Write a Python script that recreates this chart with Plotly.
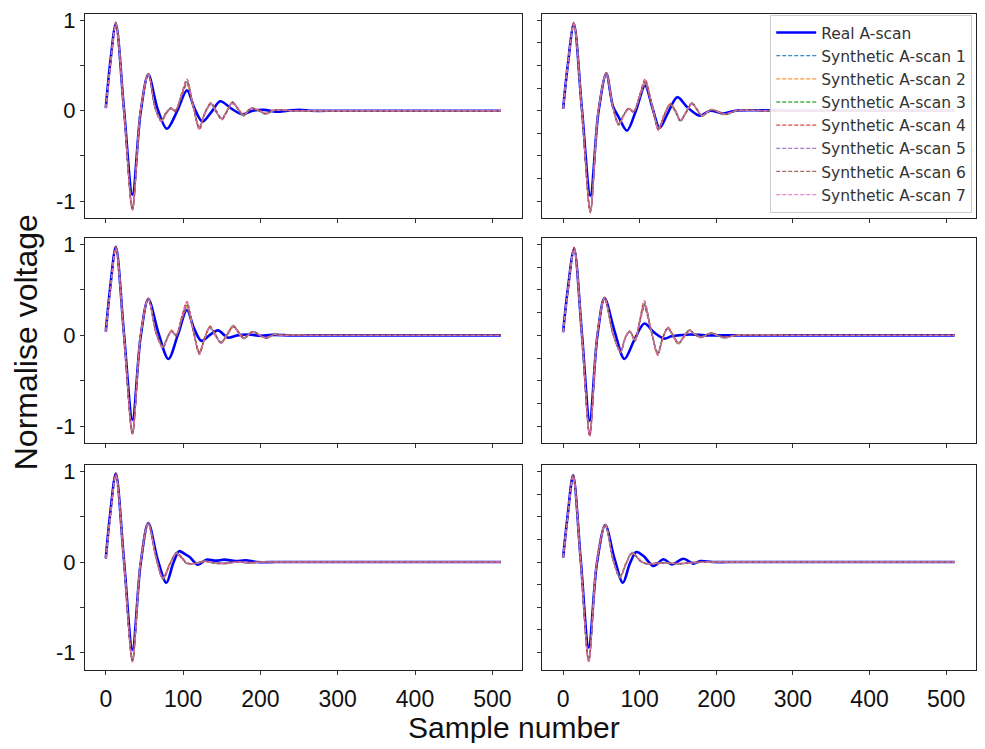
import plotly.graph_objects as go

# ---------------- data ----------------
REAL_NAME = "Real A-scan"
SYN_NAMES = ["Synthetic A-scan 1", "Synthetic A-scan 2", "Synthetic A-scan 3",
             "Synthetic A-scan 4", "Synthetic A-scan 5", "Synthetic A-scan 6",
             "Synthetic A-scan 7"]
X_TICKS = [0, 100, 200, 300, 400, 500]
Y_TICKS_LEFT = [-1, -0.5, 0, 0.5, 1]
Y_TICKTEXT_LEFT = ["-1", "", "0", "", "1"]
Y_TICKS_RIGHT = [-1, -0.75, -0.5, -0.25, 0, 0.25, 0.5, 0.75, 1]

# Panel 1 (top-left)
P1_REAL_X = [0, 6, 13, 23.5, 34.5, 45, 55, 67, 79, 92, 105, 115, 125, 137, 148, 163, 177, 190, 205, 220, 235, 250, 265, 300, 400, 511]
P1_REAL_Y = [0.03, 0.55, 0.96, 0.02, -0.93, -0.02, 0.40, 0.02, -0.20, -0.01, 0.225, 0.02, -0.12, -0.01, 0.105, 0.02, -0.04, 0.0, 0.01, -0.01, 0.0, 0.01, 0.0, 0.0, 0.0, 0.0]
P1_SYN_X = [0, 6, 13, 23.5, 34.5, 45, 55, 64, 72, 78, 84, 90, 98, 105, 113, 121, 128, 136, 143, 150, 157, 164, 171, 178, 188, 198, 207, 216, 226, 240, 260, 300, 400, 511]
P1_SYN_1 = [0.03, 0.52, 0.97, 0.0, -1.08, 0.0, 0.40, 0.03, -0.11, -0.03, 0.025, 0.0, 0.17, 0.32, 0.05, -0.19, -0.03, 0.08, -0.01, -0.09, 0.0, 0.09, 0.02, -0.05, 0.025, 0.0, -0.035, 0.0, 0.01, 0.0, 0.0, 0.0, 0.0, 0.0]
P1_SYN_2 = [0.03, 0.51, 0.96, 0.0, -1.06, 0.0, 0.41, 0.02, -0.12, -0.04, 0.03, 0.01, 0.16, 0.29, 0.04, -0.17, -0.04, 0.09, 0.0, -0.10, -0.01, 0.08, 0.03, -0.04, 0.02, 0.01, -0.03, 0.0, 0.005, 0.0, 0.0, 0.0, 0.0, 0.0]
P1_SYN_3 = [0.03, 0.53, 0.97, 0.0, -1.09, 0.0, 0.40, 0.04, -0.10, -0.02, 0.02, 0.0, 0.18, 0.33, 0.06, -0.20, -0.02, 0.07, -0.02, -0.08, 0.01, 0.10, 0.01, -0.06, 0.03, 0.0, -0.04, 0.0, 0.01, 0.0, 0.0, 0.0, 0.0, 0.0]
P1_SYN_4 = [0.03, 0.52, 0.98, 0.0, -1.10, 0.0, 0.39, 0.03, -0.11, -0.03, 0.03, -0.01, 0.19, 0.35, 0.05, -0.21, -0.03, 0.08, -0.01, -0.09, 0.0, 0.09, 0.02, -0.05, 0.025, 0.0, -0.03, 0.01, 0.01, 0.0, 0.0, 0.0, 0.0, 0.0]
P1_SYN_5 = [0.03, 0.50, 0.96, 0.0, -1.07, 0.0, 0.40, 0.02, -0.12, -0.03, 0.02, 0.0, 0.15, 0.30, 0.04, -0.18, -0.04, 0.07, 0.0, -0.09, -0.01, 0.08, 0.02, -0.05, 0.02, 0.0, -0.035, 0.0, 0.01, 0.0, 0.0, 0.0, 0.0, 0.0]
P1_SYN_6 = [0.03, 0.52, 0.97, 0.0, -1.09, 0.0, 0.41, 0.03, -0.10, -0.02, 0.03, 0.0, 0.17, 0.31, 0.05, -0.19, -0.03, 0.09, -0.01, -0.10, 0.0, 0.10, 0.02, -0.04, 0.03, 0.0, -0.03, 0.0, 0.01, 0.0, 0.0, 0.0, 0.0, 0.0]
P1_SYN_7 = [0.03, 0.51, 0.96, 0.0, -1.10, 0.0, 0.40, 0.03, -0.11, -0.04, 0.025, 0.01, 0.18, 0.34, 0.06, -0.20, -0.03, 0.08, -0.02, -0.09, 0.01, 0.09, 0.03, -0.05, 0.025, 0.01, -0.04, 0.0, 0.01, 0.0, 0.0, 0.0, 0.0, 0.0]

# Panel 2 (middle-left)
P2_REAL_X = [0, 6, 13, 23.5, 34.5, 45, 55, 68, 81, 93, 105, 114, 123.5, 134, 145, 158, 170, 185, 200, 215, 240, 270, 300, 400, 511]
P2_REAL_Y = [0.04, 0.55, 0.975, 0.02, -0.93, -0.02, 0.40, 0.03, -0.26, 0.0, 0.28, 0.08, -0.06, 0.0, 0.055, -0.025, 0.0, 0.01, -0.005, 0.005, 0.0, 0.0, 0.0, 0.0, 0.0]
P2_SYN_X = [0, 6, 13, 23.5, 34.5, 45, 55, 65, 74, 80, 85, 91, 98, 105, 113, 121, 128, 134.6, 142, 149, 157, 165, 172, 179, 190, 207, 218, 228, 245, 260, 300, 400, 511]
P2_SYN_1 = [0.04, 0.52, 0.97, 0.0, -1.07, 0.0, 0.40, 0.03, -0.13, -0.02, 0.05, 0.0, 0.18, 0.34, 0.06, -0.19, -0.03, 0.09, 0.0, -0.08, 0.01, 0.10, 0.03, -0.03, 0.04, -0.03, 0.01, 0.0, 0.005, 0.0, 0.0, 0.0, 0.0]
P2_SYN_2 = [0.04, 0.51, 0.96, 0.0, -1.05, 0.0, 0.41, 0.02, -0.14, -0.03, 0.06, 0.01, 0.17, 0.31, 0.05, -0.17, -0.04, 0.10, 0.01, -0.09, 0.0, 0.09, 0.04, -0.02, 0.035, -0.025, 0.01, 0.0, 0.005, 0.0, 0.0, 0.0, 0.0]
P2_SYN_3 = [0.04, 0.53, 0.97, 0.0, -1.08, 0.0, 0.40, 0.04, -0.12, -0.01, 0.04, 0.0, 0.19, 0.35, 0.07, -0.20, -0.02, 0.08, -0.01, -0.07, 0.02, 0.11, 0.02, -0.04, 0.045, -0.035, 0.015, 0.0, 0.005, 0.0, 0.0, 0.0, 0.0]
P2_SYN_4 = [0.04, 0.52, 0.98, 0.0, -1.09, 0.0, 0.39, 0.03, -0.13, -0.02, 0.05, -0.01, 0.20, 0.37, 0.06, -0.21, -0.03, 0.09, 0.0, -0.08, 0.01, 0.10, 0.03, -0.03, 0.04, -0.03, 0.01, 0.0, 0.005, 0.0, 0.0, 0.0, 0.0]
P2_SYN_5 = [0.04, 0.50, 0.96, 0.0, -1.06, 0.0, 0.40, 0.02, -0.14, -0.02, 0.04, 0.0, 0.16, 0.30, 0.05, -0.18, -0.04, 0.08, 0.01, -0.09, 0.0, 0.09, 0.03, -0.03, 0.035, -0.03, 0.005, 0.0, 0.005, 0.0, 0.0, 0.0, 0.0]
P2_SYN_6 = [0.04, 0.52, 0.97, 0.0, -1.08, 0.0, 0.41, 0.03, -0.12, -0.02, 0.05, 0.0, 0.18, 0.33, 0.06, -0.19, -0.03, 0.10, 0.0, -0.08, 0.01, 0.11, 0.03, -0.03, 0.04, -0.03, 0.01, 0.0, 0.005, 0.0, 0.0, 0.0, 0.0]
P2_SYN_7 = [0.04, 0.51, 0.96, 0.0, -1.09, 0.0, 0.40, 0.03, -0.13, -0.03, 0.05, 0.01, 0.19, 0.36, 0.07, -0.20, -0.03, 0.09, -0.01, -0.08, 0.02, 0.10, 0.02, -0.035, 0.04, -0.03, 0.01, 0.0, 0.005, 0.0, 0.0, 0.0, 0.0]

# Panel 3 (bottom-left)
P3_REAL_X = [0, 6, 13, 23.5, 34.5, 45, 55, 67, 78.4, 87, 94.8, 102, 108.6, 119, 130, 142, 153.5, 168, 181, 195, 220, 260, 300, 400, 511]
P3_REAL_Y = [0.04, 0.56, 0.98, 0.02, -0.97, -0.02, 0.43, 0.03, -0.23, -0.02, 0.12, 0.09, 0.055, -0.03, 0.026, 0.015, 0.026, 0.01, 0.02, 0.0, 0.0, 0.0, 0.0, 0.0, 0.0]
P3_SYN_X = [0, 6, 13, 23.5, 34.5, 45, 55, 65, 74, 83, 91.4, 98, 104, 110, 118, 128, 140, 155, 170, 185, 200, 230, 300, 400, 511]
P3_SYN_1 = [0.04, 0.53, 0.97, 0.0, -1.09, 0.0, 0.43, 0.05, -0.18, -0.02, 0.10, 0.05, -0.01, -0.02, -0.01, 0.01, -0.01, -0.015, 0.0, -0.01, 0.0, 0.0, 0.0, 0.0, 0.0]
P3_SYN_2 = [0.04, 0.52, 0.96, 0.0, -1.07, 0.0, 0.43, 0.04, -0.17, -0.01, 0.09, 0.04, 0.0, -0.02, -0.015, 0.005, -0.01, -0.01, 0.0, -0.005, 0.0, 0.0, 0.0, 0.0, 0.0]
P3_SYN_3 = [0.04, 0.54, 0.97, 0.0, -1.10, 0.0, 0.42, 0.05, -0.19, -0.03, 0.11, 0.05, -0.01, -0.025, -0.01, 0.01, -0.015, -0.02, 0.0, -0.01, 0.0, 0.0, 0.0, 0.0, 0.0]
P3_SYN_4 = [0.04, 0.53, 0.98, 0.0, -1.10, 0.0, 0.43, 0.06, -0.18, -0.02, 0.10, 0.06, -0.005, -0.02, -0.01, 0.01, -0.01, -0.015, 0.005, -0.01, 0.0, 0.0, 0.0, 0.0, 0.0]
P3_SYN_5 = [0.04, 0.52, 0.96, 0.0, -1.08, 0.0, 0.44, 0.05, -0.17, -0.02, 0.10, 0.05, -0.01, -0.02, -0.01, 0.01, -0.005, -0.01, 0.0, -0.01, 0.0, 0.0, 0.0, 0.0, 0.0]
P3_SYN_6 = [0.04, 0.53, 0.97, 0.0, -1.09, 0.0, 0.43, 0.04, -0.19, -0.02, 0.09, 0.05, -0.015, -0.02, -0.01, 0.01, -0.01, -0.015, 0.0, -0.01, 0.0, 0.0, 0.0, 0.0, 0.0]
P3_SYN_7 = [0.04, 0.52, 0.96, 0.0, -1.11, 0.0, 0.42, 0.05, -0.18, -0.03, 0.10, 0.04, -0.01, -0.02, -0.015, 0.01, -0.01, -0.02, 0.0, -0.01, 0.0, 0.0, 0.0, 0.0, 0.0]

# Panel 4 (top-right)
P4_REAL_X = [0, 6, 14, 24.5, 35.6, 46, 56.4, 65, 72.5, 83.3, 95, 107, 116, 126, 137, 149, 162, 174, 179, 192, 209, 225, 250, 300, 400, 511]
P4_REAL_Y = [0.02, 0.5, 0.96, 0.02, -0.94, -0.02, 0.41, 0.05, -0.07, -0.22, 0.0, 0.28, 0.05, -0.19, -0.02, 0.15, 0.04, -0.04, -0.055, 0.0, -0.03, 0.0, 0.005, 0.0, 0.0, 0.0]
P4_SYN_X = [0, 6, 14, 24.5, 35.6, 46, 56.4, 65, 72.5, 79, 85.5, 92, 100, 107, 116, 124.6, 132, 140, 147, 153, 161, 168, 175, 181, 194, 211, 226.5, 245, 265, 300, 400, 511]
P4_SYN_1 = [0.02, 0.5, 0.97, 0.0, -1.11, 0.0, 0.41, 0.04, -0.15, -0.05, 0.02, -0.01, 0.16, 0.32, 0.06, -0.20, -0.05, 0.07, -0.01, -0.11, -0.01, 0.08, 0.01, -0.055, 0.01, -0.04, 0.0, 0.005, 0.0, 0.0, 0.0, 0.0]
P4_SYN_2 = [0.02, 0.49, 0.96, 0.0, -1.09, 0.0, 0.42, 0.03, -0.16, -0.06, 0.03, 0.0, 0.15, 0.29, 0.05, -0.18, -0.06, 0.08, 0.0, -0.10, -0.02, 0.07, 0.02, -0.05, 0.015, -0.035, 0.0, 0.005, 0.0, 0.0, 0.0, 0.0]
P4_SYN_3 = [0.02, 0.51, 0.97, 0.0, -1.12, 0.0, 0.41, 0.05, -0.14, -0.04, 0.02, -0.01, 0.17, 0.33, 0.07, -0.21, -0.04, 0.06, -0.02, -0.12, 0.0, 0.09, 0.01, -0.06, 0.01, -0.045, 0.0, 0.005, 0.0, 0.0, 0.0, 0.0]
P4_SYN_4 = [0.02, 0.5, 0.98, 0.0, -1.13, 0.0, 0.40, 0.04, -0.15, -0.05, 0.025, -0.02, 0.18, 0.35, 0.06, -0.22, -0.05, 0.07, -0.01, -0.11, -0.01, 0.08, 0.01, -0.055, 0.01, -0.04, 0.0, 0.005, 0.0, 0.0, 0.0, 0.0]
P4_SYN_5 = [0.02, 0.49, 0.96, 0.0, -1.10, 0.0, 0.41, 0.03, -0.16, -0.05, 0.015, -0.01, 0.15, 0.30, 0.05, -0.19, -0.05, 0.07, 0.0, -0.10, -0.01, 0.07, 0.01, -0.05, 0.01, -0.035, 0.0, 0.005, 0.0, 0.0, 0.0, 0.0]
P4_SYN_6 = [0.02, 0.5, 0.97, 0.0, -1.11, 0.0, 0.42, 0.04, -0.14, -0.05, 0.02, -0.01, 0.16, 0.31, 0.06, -0.20, -0.04, 0.08, -0.01, -0.11, -0.01, 0.09, 0.01, -0.06, 0.01, -0.04, 0.0, 0.005, 0.0, 0.0, 0.0, 0.0]
P4_SYN_7 = [0.02, 0.5, 0.96, 0.0, -1.12, 0.0, 0.41, 0.04, -0.15, -0.06, 0.02, 0.0, 0.17, 0.34, 0.07, -0.21, -0.05, 0.07, -0.02, -0.11, 0.0, 0.08, 0.02, -0.055, 0.015, -0.04, 0.0, 0.005, 0.0, 0.0, 0.0, 0.0]

# Panel 5 (middle-right)
P5_REAL_X = [0, 6, 14.3, 24.5, 34.7, 44.5, 54, 67, 80, 93, 106, 119, 132, 141, 150, 167, 185, 210, 250, 300, 400, 511]
P5_REAL_Y = [0.036, 0.5, 0.95, 0.02, -0.94, -0.02, 0.41, 0.05, -0.26, -0.05, 0.13, 0.03, -0.036, -0.01, 0.0, 0.01, 0.0, 0.0, 0.0, 0.0, 0.0, 0.0]
P5_SYN_X = [0, 6, 14.3, 24.5, 34.7, 44.5, 54, 65, 75, 81, 87, 93.7, 100, 106, 115, 123.5, 130, 136.7, 144, 150.6, 158, 165, 172, 180, 193, 210, 225, 245, 300, 400, 511]
P5_SYN_1 = [0.036, 0.48, 0.96, 0.0, -1.09, 0.0, 0.41, 0.02, -0.18, -0.03, 0.045, -0.05, 0.15, 0.34, 0.05, -0.20, -0.03, 0.08, -0.01, -0.09, -0.01, 0.055, 0.01, -0.02, 0.025, -0.025, 0.0, 0.005, 0.0, 0.0, 0.0]
P5_SYN_2 = [0.036, 0.47, 0.95, 0.0, -1.07, 0.0, 0.42, 0.01, -0.17, -0.02, 0.05, -0.04, 0.14, 0.30, 0.04, -0.18, -0.04, 0.09, 0.0, -0.08, -0.02, 0.05, 0.015, -0.015, 0.02, -0.02, 0.0, 0.005, 0.0, 0.0, 0.0]
P5_SYN_3 = [0.036, 0.49, 0.96, 0.0, -1.10, 0.0, 0.41, 0.03, -0.19, -0.04, 0.04, -0.06, 0.16, 0.35, 0.06, -0.21, -0.02, 0.07, -0.02, -0.10, 0.0, 0.06, 0.005, -0.025, 0.03, -0.03, 0.0, 0.005, 0.0, 0.0, 0.0]
P5_SYN_4 = [0.036, 0.48, 0.97, 0.0, -1.11, 0.0, 0.40, 0.02, -0.18, -0.03, 0.045, -0.07, 0.17, 0.38, 0.05, -0.22, -0.03, 0.08, -0.01, -0.09, -0.01, 0.055, 0.01, -0.02, 0.025, -0.025, 0.0, 0.005, 0.0, 0.0, 0.0]
P5_SYN_5 = [0.036, 0.47, 0.95, 0.0, -1.08, 0.0, 0.41, 0.02, -0.17, -0.03, 0.04, -0.04, 0.14, 0.31, 0.04, -0.19, -0.03, 0.07, 0.0, -0.08, -0.01, 0.05, 0.01, -0.02, 0.02, -0.025, 0.0, 0.005, 0.0, 0.0, 0.0]
P5_SYN_6 = [0.036, 0.48, 0.96, 0.0, -1.10, 0.0, 0.42, 0.02, -0.18, -0.03, 0.05, -0.05, 0.15, 0.33, 0.05, -0.20, -0.03, 0.09, -0.01, -0.09, -0.01, 0.06, 0.01, -0.02, 0.025, -0.02, 0.0, 0.005, 0.0, 0.0, 0.0]
P5_SYN_7 = [0.036, 0.48, 0.95, 0.0, -1.11, 0.0, 0.41, 0.03, -0.19, -0.03, 0.045, -0.06, 0.16, 0.36, 0.06, -0.21, -0.03, 0.08, -0.02, -0.09, 0.0, 0.055, 0.015, -0.025, 0.025, -0.03, 0.0, 0.005, 0.0, 0.0, 0.0]

# Panel 6 (bottom-right)
P6_REAL_X = [0, 6, 13, 23, 33.4, 44, 55, 67, 78, 87, 95.5, 105, 118, 131, 142, 157, 170, 179, 195, 230, 300, 400, 511]
P6_REAL_Y = [0.05, 0.52, 0.96, 0.02, -0.945, -0.02, 0.41, 0.04, -0.23, -0.02, 0.11, 0.066, -0.044, 0.03, -0.026, 0.037, -0.018, 0.01, 0.0, 0.0, 0.0, 0.0, 0.0]
P6_SYN_X = [0, 6, 13, 23, 33.4, 44, 55, 65, 74, 82, 90, 101, 109, 120, 135, 150, 170, 190, 220, 300, 400, 511]
P6_SYN_1 = [0.05, 0.5, 0.96, 0.0, -1.09, 0.0, 0.41, 0.03, -0.165, -0.02, 0.10, 0.01, -0.02, -0.015, -0.01, -0.02, -0.005, 0.0, 0.0, 0.0, 0.0, 0.0]
P6_SYN_2 = [0.05, 0.49, 0.95, 0.0, -1.07, 0.0, 0.42, 0.02, -0.155, -0.01, 0.09, 0.015, -0.015, -0.02, -0.01, -0.015, -0.005, 0.0, 0.0, 0.0, 0.0, 0.0]
P6_SYN_3 = [0.05, 0.51, 0.96, 0.0, -1.10, 0.0, 0.41, 0.04, -0.175, -0.03, 0.11, 0.005, -0.025, -0.015, -0.005, -0.02, -0.01, 0.0, 0.0, 0.0, 0.0, 0.0]
P6_SYN_4 = [0.05, 0.5, 0.97, 0.0, -1.10, 0.0, 0.40, 0.03, -0.165, -0.02, 0.10, 0.02, -0.02, -0.01, -0.01, -0.02, -0.005, 0.0, 0.0, 0.0, 0.0, 0.0]
P6_SYN_5 = [0.05, 0.49, 0.95, 0.0, -1.08, 0.0, 0.41, 0.03, -0.16, -0.02, 0.095, 0.01, -0.02, -0.015, -0.015, -0.015, -0.005, 0.0, 0.0, 0.0, 0.0, 0.0]
P6_SYN_6 = [0.05, 0.5, 0.96, 0.0, -1.09, 0.0, 0.42, 0.03, -0.17, -0.02, 0.10, 0.01, -0.015, -0.02, -0.01, -0.02, -0.005, 0.0, 0.0, 0.0, 0.0, 0.0]
P6_SYN_7 = [0.05, 0.5, 0.95, 0.0, -1.11, 0.0, 0.41, 0.04, -0.17, -0.025, 0.105, 0.01, -0.02, -0.015, -0.01, -0.02, -0.01, 0.0, 0.0, 0.0, 0.0, 0.0]

# ---------------- styling ----------------
REAL_COLOR = "#0000ff"
SYN_COLORS = ["#1f77b4", "#ff7f0e", "#2ca02c", "#d62728", "#9467bd", "#8c564b", "#e377c2"]
AXIS_FONT = "Liberation Sans, Arial, sans-serif"
LEGEND_FONT = "DejaVu Sans, sans-serif"

# The page offsets the figure a little; target positions are given in
# screen pixels and converted to paper fractions of a slightly smaller figure.
OX, OY = 8, 14
W, H = 969, 735


def px(xpix):
    return min(1.0, max(0.0, (xpix - OX) / W))


def py(ypix):
    return min(1.0, max(0.0, 1 - (ypix - OY) / H))


X_LEFT = [px(85), px(523)]
X_RIGHT = [px(543), px(978)]
ROWS = [[py(220), py(14)],
        [py(447), py(240)],
        [py(675), py(469)]]

panels = [
    (P1_REAL_X, P1_REAL_Y, P1_SYN_X, [P1_SYN_1, P1_SYN_2, P1_SYN_3, P1_SYN_4, P1_SYN_5, P1_SYN_6, P1_SYN_7], X_LEFT, ROWS[0], "left", False),
    (P2_REAL_X, P2_REAL_Y, P2_SYN_X, [P2_SYN_1, P2_SYN_2, P2_SYN_3, P2_SYN_4, P2_SYN_5, P2_SYN_6, P2_SYN_7], X_LEFT, ROWS[1], "left", False),
    (P3_REAL_X, P3_REAL_Y, P3_SYN_X, [P3_SYN_1, P3_SYN_2, P3_SYN_3, P3_SYN_4, P3_SYN_5, P3_SYN_6, P3_SYN_7], X_LEFT, ROWS[2], "left", True),
    (P4_REAL_X, P4_REAL_Y, P4_SYN_X, [P4_SYN_1, P4_SYN_2, P4_SYN_3, P4_SYN_4, P4_SYN_5, P4_SYN_6, P4_SYN_7], X_RIGHT, ROWS[0], "right", False),
    (P5_REAL_X, P5_REAL_Y, P5_SYN_X, [P5_SYN_1, P5_SYN_2, P5_SYN_3, P5_SYN_4, P5_SYN_5, P5_SYN_6, P5_SYN_7], X_RIGHT, ROWS[1], "right", False),
    (P6_REAL_X, P6_REAL_Y, P6_SYN_X, [P6_SYN_1, P6_SYN_2, P6_SYN_3, P6_SYN_4, P6_SYN_5, P6_SYN_6, P6_SYN_7], X_RIGHT, ROWS[2], "right", True),
]

fig = go.Figure()
layout = {}
for i, (rx, ry, sx, sys_, xdom, ydom, side, bottom) in enumerate(panels):
    n = i + 1
    xa = "x" if n == 1 else f"x{n}"
    ya = "y" if n == 1 else f"y{n}"
    show = (n == 4)
    fig.add_trace(go.Scatter(x=rx, y=ry, mode="lines", name=REAL_NAME,
                             line=dict(color=REAL_COLOR, width=2.6, shape="spline", smoothing=0.9),
                             xaxis=xa, yaxis=ya, showlegend=show, legendrank=1))
    for k, (yy, col) in enumerate(zip(sys_, SYN_COLORS)):
        m = min(len(sx), len(yy))
        fig.add_trace(go.Scatter(x=sx[:m], y=yy[:m], mode="lines", name=SYN_NAMES[k],
                                 line=dict(color=col, width=1.3, dash="4px,2px", shape="spline", smoothing=0.9),
                                 opacity=0.85, xaxis=xa, yaxis=ya, showlegend=show, legendrank=k + 2))
    axis_common = dict(showline=True, mirror=True, linecolor="#222", linewidth=1,
                       ticks="outside", ticklen=4, tickcolor="#333", showgrid=False, zeroline=False,
                       ticklabeloverflow="allow")
    layout["xaxis" if n == 1 else f"xaxis{n}"] = dict(
        domain=xdom, anchor=ya, range=[-27, 539], tickvals=X_TICKS, ticklabelstandoff=5,
        showticklabels=bottom, tickfont=dict(family=AXIS_FONT, size=23, color="#111"), **axis_common)
    if side == "left":
        ydict = dict(tickvals=Y_TICKS_LEFT, ticktext=Y_TICKTEXT_LEFT, showticklabels=True,
                     tickfont=dict(family=AXIS_FONT, size=22, color="#111"))
    else:
        ydict = dict(tickvals=Y_TICKS_RIGHT, showticklabels=False)
    layout["yaxis" if n == 1 else f"yaxis{n}"] = dict(
        domain=ydom, anchor=xa, range=[-1.19, 1.07], **ydict, **axis_common)

fig.update_layout(**layout)
fig.update_layout(
    width=W, height=H,
    margin=dict(l=0, r=0, t=0, b=0),
    paper_bgcolor="white", plot_bgcolor="white",
    legend=dict(x=px(771), y=py(15), xanchor="left", yanchor="top",
                bgcolor="rgba(255,255,255,0.85)", bordercolor="#cccccc", borderwidth=1,
                font=dict(family=LEGEND_FONT, size=15.5, color="#333"),
                itemwidth=40, tracegroupgap=0),
    annotations=[
        dict(text="Normalise voltage", x=px(26), y=py(345), xref="paper", yref="paper",
             textangle=-90, showarrow=False, font=dict(family=AXIS_FONT, size=32, color="#111"),
             xanchor="center", yanchor="middle"),
        dict(text="Sample number", x=px(515), y=py(733), xref="paper", yref="paper",
             showarrow=False, font=dict(family=AXIS_FONT, size=30, color="#111"),
             xanchor="center", yanchor="middle"),
    ],
)

fig.write_html("out.html")
